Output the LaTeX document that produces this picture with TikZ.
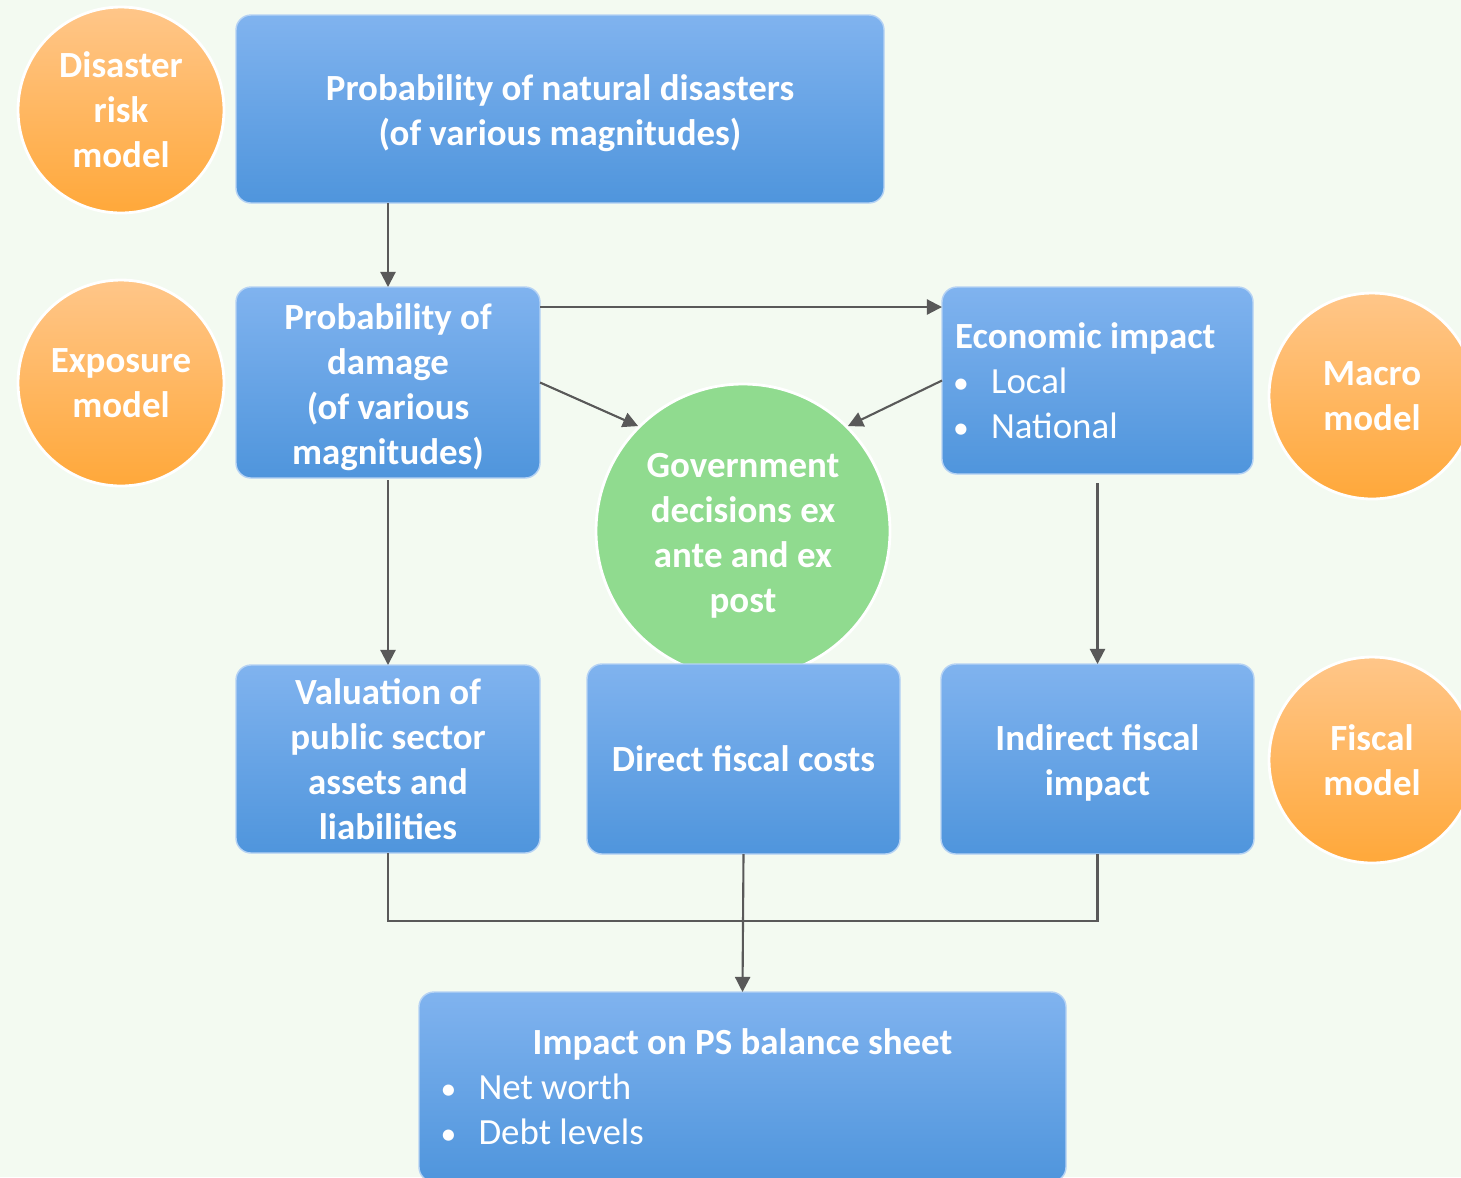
\documentclass[tikz,border=0pt]{standalone}
\usepackage{fontspec}
\setmainfont{Carlito}
\usetikzlibrary{arrows.meta}

\definecolor{bgcol}{HTML}{F3FAF1}
\definecolor{blueTop}{HTML}{80B3EF}
\definecolor{blueBot}{HTML}{4F95DC}
\definecolor{boxline}{HTML}{B5D2F4}
\definecolor{orTop}{HTML}{FFC689}
\definecolor{orBot}{HTML}{FFA83A}
\definecolor{govgreen}{HTML}{90DB8F}
\definecolor{arrowgray}{HTML}{595959}

\newcommand{\boxfont}{\fontsize{10.5pt}{12.8pt}\selectfont}
\newcommand{\bul}{\makebox[0.36cm][l]{\hspace{-0.02cm}{\fontsize{9pt}{9pt}\selectfont•}}}
\newcommand{\tstrut}{\rule{0pt}{9.8pt}}

\begin{document}
\begin{tikzpicture}[
        box/.style={rectangle, rounded corners=0.15cm, top color=blueTop, bottom color=blueBot,
            draw=boxline, line width=0.4pt, text=white, inner sep=0pt, outer sep=0pt,
            font=\boxfont\bfseries, align=center},
        list/.style={box, align=left, execute at begin node={\spaceskip=0pt\xspaceskip=0pt}},
        model/.style={circle, top color=orTop, bottom color=orBot, draw=white, line width=0.8pt,
            minimum size=2.06cm, inner sep=0pt, text=white, font=\boxfont\bfseries, align=center},
        arr/.style={draw=arrowgray, line width=0.6pt, -{Triangle[length=4.3pt,width=4.3pt]}},
        link/.style={draw=arrowgray, line width=0.6pt}]

    \fill[bgcol] (0,0) rectangle (14.61,-11.77);
    \useasboundingbox (0,0) rectangle (14.61,-11.77);

    % decisions circle, partly under the direct costs box
    \node[circle, fill=govgreen, draw=white, line width=0.8pt, minimum size=2.94cm, inner sep=0pt,
        text=white, font=\boxfont\bfseries, align=center] (gov) at (7.43,-5.31)
        {\tstrut Government\\ decisions ex\\ ante and ex\\ post};

    % main boxes
    \node[box, minimum width=6.48cm, minimum height=1.88cm] (top) at (5.60,-1.09)
        {\tstrut Probability of natural disasters\\ (of various magnitudes)};
    \node[box, minimum width=3.04cm, minimum height=1.91cm] (dmg) at (3.88,-3.825)
        {\tstrut Probability of\\ damage\\ (of various\\ magnitudes)};
    \node[list, minimum width=3.11cm, minimum height=1.87cm, text width=2.85cm] (econ) at (10.975,-3.805)
        {Economic impact\\ \mdseries\bul Local\\ \bul National};
    \node[box, minimum width=3.04cm, minimum height=1.88cm] (val) at (3.88,-7.59)
        {Valuation of\\ public sector\\ assets and\\ liabilities};
    \node[box, minimum width=3.13cm, minimum height=1.90cm] (direct) at (7.435,-7.59)
        {Direct fiscal costs};
    \node[box, minimum width=3.13cm, minimum height=1.90cm] (ind) at (10.975,-7.59)
        {\tstrut Indirect fiscal\\ impact};
    \node[list, minimum width=6.47cm, minimum height=1.90cm, text width=6.0cm] (impact) at (7.425,-10.87)
        {\makebox[6.0cm]{Impact on PS balance sheet}\\ \mdseries\bul Net worth\\ \bul Debt levels};

    % models
    \node[model] (risk) at (1.21,-1.10) {Disaster\\ risk\\ model};
    \node[model] (expo) at (1.21,-3.83) {Exposure\\ model};
    \node[model] (macro) at (13.72,-3.96) {Macro\\ model};
    \node[model] (fisc) at (13.72,-7.60) {Fiscal\\ model};

    % connectors
    \coordinate (dmgtop) at ([yshift=-0.2cm]dmg.north east);
    \draw[arr] (dmg.north |- top.south) -- (dmg.north);
    \draw[arr] (dmgtop) -- (dmgtop -| econ.west);
    \draw[arr] (dmg.east) -- (gov.135);
    \draw[arr] (econ.west) -- (gov.45);
    \draw[arr, shorten <=0.02cm] (dmg.south) -- (val.north);
    \draw[arr, shorten <=0.09cm] (econ.south) -- (ind.north);
    \draw[link] (val.south) -- ++(0,-0.68) -| (ind.south);
    \draw[arr] (direct.south) -- (impact.north);
\end{tikzpicture}
\end{document}
